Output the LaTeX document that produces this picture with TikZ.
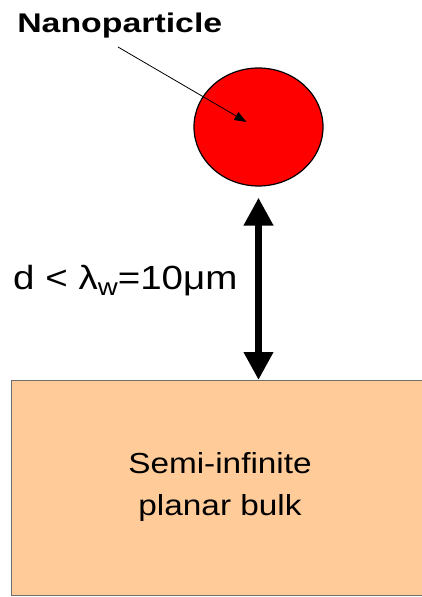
\documentclass[tikz,border=0pt]{standalone}
\usepackage{fontspec}
\setmainfont{Liberation Sans}
\usepackage{xcolor}
\definecolor{bulkpeach}{RGB}{255,204,153}
\definecolor{bulkgray}{RGB}{110,110,110}
\usepackage{tikz}
\usetikzlibrary{shapes.geometric, arrows.meta, positioning, calc}

\begin{document}
\begin{tikzpicture}[x=1pt, y=-1pt,
  wide/.style={inner sep=0pt, transform shape, xscale=1.15},
  bigarrow/.style={line width=7pt, {Triangle[width=28pt,length=28pt]}-{Triangle[width=28pt,length=28pt]}}]
\useasboundingbox (0,0) rectangle (422,597);
% particle and bulk
\node[ellipse, draw, line width=1.2pt, fill=red, minimum width=129pt, minimum height=118pt] (nano) at (258.5,127) {};
\node[draw=bulkgray, line width=1.2pt, fill=bulkpeach, anchor=north west,
      minimum width=460pt, minimum height=215pt] (bulk) at (11,380) {};
\node[wide, align=center, font=\fontsize{29}{42}\selectfont] (bulktext) at (220,487) {Semi-infinite\\ planar bulk};
% labels
\node[wide, anchor=base west, font=\fontsize{27}{30}\selectfont\bfseries, xscale=1.09] (nanolabel) at (17,32) {Nanoparticle};
\node[wide, anchor=base west, font=\fontsize{33.5}{36}\selectfont] (dist) at (13,289)
  {d < λ\raisebox{-6pt}{\fontsize{24}{24}\selectfont w}=10μm};
\coordinate (tail) at (118,47);
\draw[line width=0.8pt, -{Triangle[width=9pt,length=12pt]}] (tail) -- ([xshift=-12pt,yshift=5pt]nano.center);
\draw[bigarrow, shorten <=11pt] (nano.south) -- (nano.south |- bulk.north);
\end{tikzpicture}
\end{document}
